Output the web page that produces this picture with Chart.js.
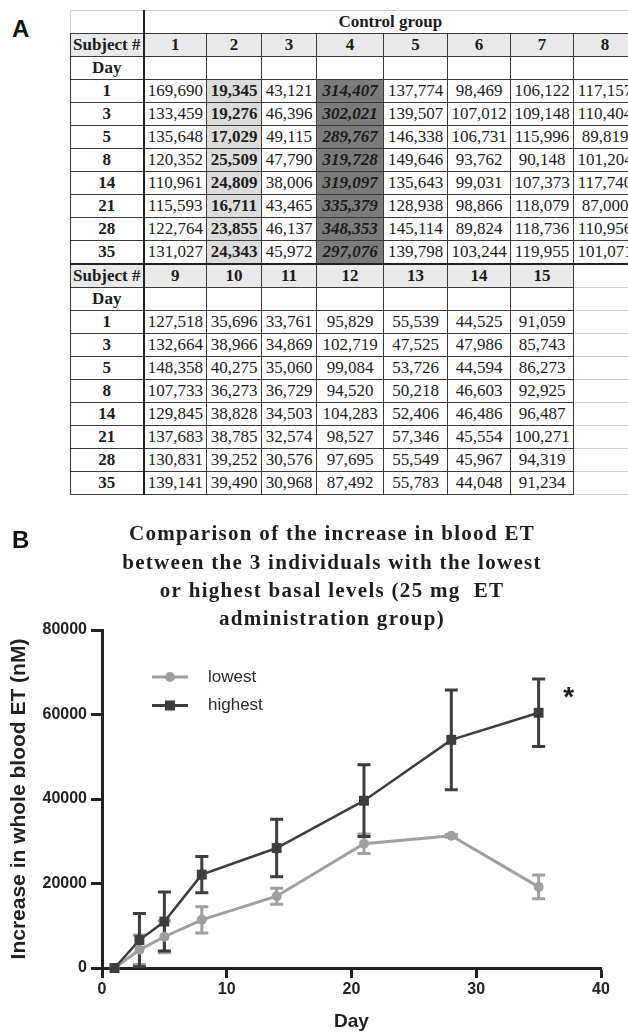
<!DOCTYPE html>
<html>
<head>
<meta charset="utf-8">
<script src="https://cdn.jsdelivr.net/npm/chart.js@4.4.1/dist/chart.umd.min.js"></script>
<style>
  html, body { margin: 0; padding: 0; background: #fff; }
  body { width: 628px; height: 1034px; overflow: hidden; position: relative; }
  .panel-label { position: absolute; font: bold 24px 'Liberation Sans', Arial, sans-serif; color: #111; }
  #tableWrap { position: absolute; left: 70px; top: 10px; }
  table { border-collapse: collapse; table-layout: fixed; width: 566px; }
  td {
    border: 1px solid #3a3a3a; padding: 0; height: 22px; line-height: 20px;
    text-align: center; white-space: nowrap; overflow: hidden;
    font: 17px 'Liberation Serif', 'Times New Roman', serif; color: #1c1c1c;
  }
  td.hdr { background: #e9e9e9; font-weight: bold; }
  td.rowlab { font-weight: bold; }
  td.first { border-right: 2px solid #222; }
  td.lowcell { background: #dcdcdc; font-weight: bold; }
  td.highcell { background: #7b7b7b; font-weight: bold; font-style: italic; }
  td.blank { border-color: #cfcfcf; }
  tr.top td { border-top: 1px solid #cfcfcf; }
  tr.top td.first { border-left: 1px solid #cfcfcf; }
  tr.split td { border-top: 2px solid #222; }
  #chartWrap { position: absolute; left: 0; top: 500px; width: 628px; height: 534px; }
</style>
</head>
<body>
<div class="panel-label" style="left:12px; top:15px;">A</div>
<div id="tableWrap"><table id="etTable"></table></div>
<div id="chartWrap"><canvas id="etChart" width="628" height="534"></canvas></div>

<script>
// Panel A: control group values per subject, one entry per day
const tableDays = [1, 3, 5, 8, 14, 21, 28, 35];
const s1 = [169690, 133459, 135648, 120352, 110961, 115593, 122764, 131027];
const s2 = [19345, 19276, 17029, 25509, 24809, 16711, 23855, 24343];
const s3 = [43121, 46396, 49115, 47790, 38006, 43465, 46137, 45972];
const s4 = [314407, 302021, 289767, 319728, 319097, 335379, 348353, 297076];
const s5 = [137774, 139507, 146338, 149646, 135643, 128938, 145114, 139798];
const s6 = [98469, 107012, 106731, 93762, 99031, 98866, 89824, 103244];
const s7 = [106122, 109148, 115996, 90148, 107373, 118079, 118736, 119955];
const s8 = [117157, 110404, 89819, 101204, 117740, 87000, 110956, 101071];
const s9 = [127518, 132664, 148358, 107733, 129845, 137683, 130831, 139141];
const s10 = [35696, 38966, 40275, 36273, 38828, 38785, 39252, 39490];
const s11 = [33761, 34869, 35060, 36729, 34503, 32574, 30576, 30968];
const s12 = [95829, 102719, 99084, 94520, 104283, 98527, 97695, 87492];
const s13 = [55539, 47525, 53726, 50218, 52406, 57346, 55549, 55783];
const s14 = [44525, 47986, 44594, 46603, 46486, 45554, 45967, 44048];
const s15 = [91059, 85743, 86273, 92925, 96487, 100271, 94319, 91234];

// Panel B: increase in whole blood ET (mean and error), 25 mg group
const days = [1, 3, 5, 8, 14, 21, 28, 35];
const lowestMean = [0, 4300, 7400, 11400, 17000, 29400, 31300, 19200];
const lowestErr = [0, 3500, 3800, 3100, 1900, 2300, 300, 2800];
const highestMean = [0, 6600, 11000, 22100, 28400, 39600, 54000, 60400];
const highestErr = [0, 6300, 7000, 4300, 6800, 8500, 11800, 8000];

const titleLines = [
  'Comparison of the increase in blood ET',
  'between the 3 individuals with the lowest',
  'or highest basal levels (25 mg  ET',
  'administration group)'
];

const darkGrey = '#3d3d3d';
const lightGrey = '#9f9f9f';

// ---- Table ----
const table = document.getElementById('etTable');
const colWidths = [73, 63, 55, 55, 67, 64, 63, 63, 63];
const colgroup = document.createElement('colgroup');
colWidths.forEach(w => {
  const c = document.createElement('col');
  c.style.width = w + 'px';
  colgroup.appendChild(c);
});
table.appendChild(colgroup);

function addRow(cells, rowClass) {
  const tr = document.createElement('tr');
  if (rowClass) tr.className = rowClass;
  cells.forEach(cell => {
    const td = document.createElement('td');
    td.textContent = cell.text || '';
    if (cell.cls) td.className = cell.cls;
    if (cell.span) td.colSpan = cell.span;
    tr.appendChild(td);
  });
  table.appendChild(tr);
}

function addBlock(subjects, subjectCols, firstBlock) {
  const pad = 8 - subjects.length;
  const blanks = Array.from({length: pad}, () => ({cls: 'blank'}));
  addRow([{text: 'Subject #', cls: 'hdr first'}]
    .concat(subjects.map(n => ({text: String(n), cls: 'hdr'})), blanks),
    firstBlock ? '' : 'split');
  addRow([{text: 'Day', cls: 'rowlab first'}]
    .concat(subjects.map(() => ({})), blanks));
  tableDays.forEach((d, i) => {
    const cells = [{text: String(d), cls: 'rowlab first'}];
    subjectCols.forEach((col, j) => {
      let cls = '';
      if (firstBlock && j === 1) cls = 'lowcell';
      if (firstBlock && j === 3) cls = 'highcell';
      cells.push({text: col[i].toLocaleString('en-US'), cls});
    });
    addRow(cells.concat(blanks));
  });
}

addRow([{cls: 'first'}, {text: 'Control group', cls: 'rowlab', span: 8}], 'top');
addBlock([1, 2, 3, 4, 5, 6, 7, 8], [s1, s2, s3, s4, s5, s6, s7, s8], true);
addBlock([9, 10, 11, 12, 13, 14, 15], [s9, s10, s11, s12, s13, s14, s15], false);

// ---- Chart ----
const errorBars = {
  id: 'errorBars',
  beforeDatasetsDraw(chart) {
    const {ctx, scales: {x, y}} = chart;
    const series = [
      [lowestMean, lowestErr, lightGrey],
      [highestMean, highestErr, darkGrey]
    ];
    ctx.save();
    ctx.lineWidth = 3;
    series.forEach(([means, errs, color]) => {
      ctx.strokeStyle = color;
      days.forEach((d, i) => {
        if (!errs[i]) return;
        const px = x.getPixelForValue(d);
        const top = y.getPixelForValue(means[i] + errs[i]);
        const bot = y.getPixelForValue(means[i] - errs[i]);
        ctx.beginPath();
        ctx.moveTo(px, top); ctx.lineTo(px, bot);
        ctx.moveTo(px - 6.5, top); ctx.lineTo(px + 6.5, top);
        ctx.moveTo(px - 6.5, bot); ctx.lineTo(px + 6.5, bot);
        ctx.stroke();
      });
    });
    ctx.restore();
  }
};

const decorations = {
  id: 'decorations',
  afterDraw(chart) {
    const {ctx, chartArea, scales: {x, y}} = chart;
    ctx.save();
    ctx.fillStyle = '#111';
    ctx.textBaseline = 'middle';

    // panel letter
    ctx.font = 'bold 24px "Liberation Sans", Arial, sans-serif';
    ctx.textAlign = 'left';
    ctx.fillText('B', 12, 41);

    // title, loosely spaced like the original
    ctx.fillStyle = '#1e1e1e';
    ctx.font = 'bold 21px "Liberation Serif", "Times New Roman", serif';
    ctx.textAlign = 'center';
    ctx.letterSpacing = '1.3px';
    titleLines.forEach((t, i) => ctx.fillText(t, 332, 35 + i * 28.3));
    ctx.letterSpacing = '0px';

    // legend
    const lx = chartArea.left + 50;
    const entries = [
      {label: 'lowest', color: lightGrey, shape: 'circle', y: 177},
      {label: 'highest', color: darkGrey, shape: 'rect', y: 205.5}
    ];
    ctx.font = '17px "Liberation Sans", Arial, sans-serif';
    ctx.textAlign = 'left';
    entries.forEach(e => {
      ctx.strokeStyle = e.color;
      ctx.fillStyle = e.color;
      ctx.lineWidth = 3;
      ctx.beginPath();
      ctx.moveTo(lx, e.y); ctx.lineTo(lx + 36, e.y);
      ctx.stroke();
      if (e.shape === 'circle') {
        ctx.beginPath();
        ctx.arc(lx + 18, e.y, 5, 0, Math.PI * 2);
        ctx.fill();
      } else {
        ctx.fillRect(lx + 13, e.y - 5, 10, 10);
      }
      ctx.fillStyle = '#2a2a2a';
      ctx.fillText(e.label, lx + 56, e.y);
    });

    // significance mark on the last highest point
    ctx.fillStyle = '#1e1e1e';
    ctx.font = 'bold 28px "Liberation Sans", Arial, sans-serif';
    ctx.textAlign = 'center';
    const last = days.length - 1;
    ctx.fillText('*', x.getPixelForValue(days[last]) + 30, y.getPixelForValue(highestMean[last]) - 15);
    ctx.restore();
  }
};

const axisFont = {family: "'Liberation Sans', Arial, sans-serif", size: 16, weight: 'bold'};

new Chart(document.getElementById('etChart'), {
  type: 'line',
  data: {
    datasets: [
      {
        label: 'highest',
        data: days.map((d, i) => ({x: d, y: highestMean[i]})),
        borderColor: darkGrey,
        backgroundColor: darkGrey,
        borderWidth: 2.5,
        pointStyle: 'rect',
        pointRadius: 7,
        pointBorderWidth: 0,
        clip: false,
        order: 1
      },
      {
        label: 'lowest',
        data: days.map((d, i) => ({x: d, y: lowestMean[i]})),
        borderColor: lightGrey,
        backgroundColor: lightGrey,
        borderWidth: 3,
        pointStyle: 'circle',
        pointRadius: 5,
        pointBorderWidth: 0,
        clip: false,
        order: 2
      }
    ]
  },
  options: {
    responsive: false,
    animation: false,
    events: [],
    layout: {padding: {top: 130, right: 27, left: 0, bottom: 0}},
    plugins: {
      legend: {display: false},
      title: {display: false},
      tooltip: {enabled: false}
    },
    scales: {
      x: {
        type: 'linear',
        min: 0,
        max: 40,
        ticks: {stepSize: 10, color: '#222', font: axisFont, padding: 2, maxRotation: 0},
        grid: {drawOnChartArea: false, tickLength: 10, tickWidth: 3, tickColor: '#222'},
        border: {color: '#222', width: 3},
        title: {
          display: true, text: 'Day', color: '#222',
          font: {family: "'Liberation Sans', Arial, sans-serif", size: 19, weight: 'bold'},
          padding: {top: 0, bottom: 1}
        },
        afterFit(scale) { scale.height = 66; }
      },
      y: {
        min: 0,
        max: 80000,
        ticks: {stepSize: 20000, color: '#222', font: axisFont, padding: 4, callback: v => String(v)},
        grid: {drawOnChartArea: false, tickLength: 11, tickWidth: 3, tickColor: '#222'},
        border: {color: '#222', width: 3},
        title: {
          display: true, text: 'Increase in whole blood ET (nM)', color: '#222',
          font: {family: "'Liberation Sans', Arial, sans-serif", size: 21, weight: 'bold'},
          padding: {top: 7, bottom: 0}
        },
        afterFit(scale) { scale.width = 102; }
      }
    }
  },
  plugins: [errorBars, decorations]
});
</script>
</body>
</html>
